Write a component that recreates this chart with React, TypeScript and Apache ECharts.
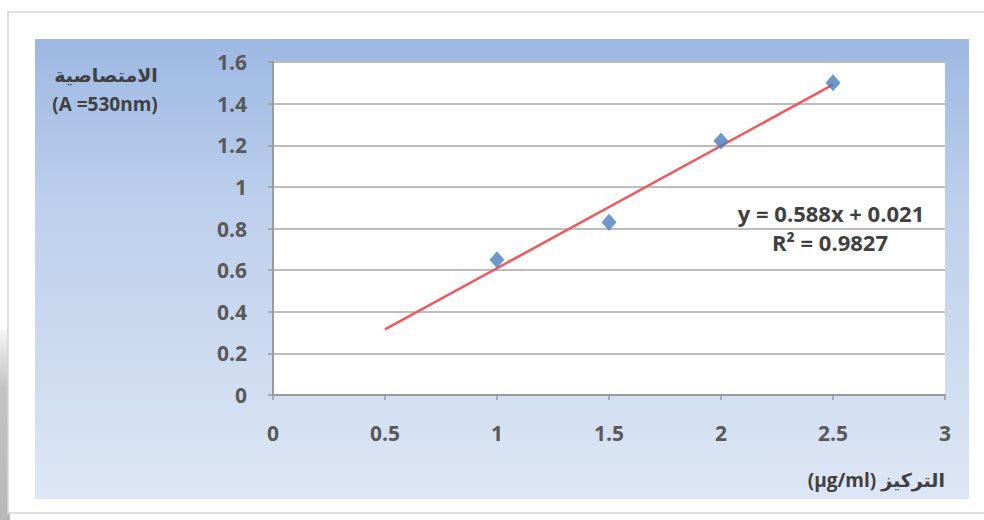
import React, { useEffect, useRef } from "react";
import * as echarts from "echarts";

const xTicks = [0, 0.5, 1, 1.5, 2, 2.5, 3];
const concentrations = [1, 1.5, 2, 2.5];
const absorbances = [0.65, 0.83, 1.22, 1.5];
const trendStart = [0.5, 0.315];
const trendEnd = [2.5, 1.491];
const equationText = "y = 0.588x + 0.021";
const r2Text = "R² = 0.9827";
const yTitleLines = ["الامتصاصية", "(A =530nm)"];
const xTitle = "(µg/ml) التركيز";

const FONT = "'Open Sans', 'DejaVu Sans', sans-serif";

export default function App() {
  const ref = useRef<HTMLDivElement>(null);
  useEffect(() => {
    if (!ref.current) return;
    const chart = echarts.init(ref.current, undefined, { renderer: "svg" });
    chart.setOption({
      animation: false,
      backgroundColor: "#ffffff",
      textStyle: { fontFamily: FONT },
      graphic: [
        {
          type: "rect",
          z: -10,
          silent: true,
          shape: { x: 0, y: 330, width: 10, height: 190 },
          style: {
            fill: new echarts.graphic.LinearGradient(0, 0, 0, 1, [
              { offset: 0, color: "#f4f4f4" },
              { offset: 0.3, color: "#c4c4c4" },
              { offset: 1, color: "#b8b8b8" },
            ]),
          },
        },
        {
          type: "rect",
          z: -9,
          silent: true,
          shape: { x: 8, y: 12, width: 990, height: 501 },
          style: { fill: "#ffffff", stroke: "#d4d4d4", lineWidth: 1.5 },
        },
        {
          type: "rect",
          z: -8,
          silent: true,
          shape: { x: 35, y: 39, width: 934, height: 460 },
          style: {
            fill: new echarts.graphic.LinearGradient(0, 0, 0, 1, [
              { offset: 0, color: "#9db8e2" },
              { offset: 0.35, color: "#bccfec" },
              { offset: 1, color: "#dde6f4" },
            ]),
          },
        },
        {
          type: "rect",
          z: -7,
          silent: true,
          shape: { x: 273, y: 62, width: 672, height: 333 },
          style: { fill: "#ffffff" },
        },
        {
          type: "text",
          x: 106,
          y: 75,
          style: {
            text: yTitleLines[0],
            font: `bold 19px ${FONT}`,
            fill: "#404040",
            align: "center",
            verticalAlign: "middle",
          },
        },
        {
          type: "text",
          x: 105,
          y: 104,
          style: {
            text: yTitleLines[1],
            font: `bold 19px ${FONT}`,
            fill: "#404040",
            align: "center",
            verticalAlign: "middle",
          },
        },
        {
          type: "text",
          x: 945,
          y: 480,
          style: {
            text: xTitle,
            font: `bold 19px ${FONT}`,
            fill: "#404040",
            align: "right",
            verticalAlign: "middle",
          },
        },
        {
          type: "text",
          x: 831,
          y: 213,
          style: {
            text: equationText,
            font: `bold 22px ${FONT}`,
            fill: "#404040",
            align: "center",
            verticalAlign: "middle",
          },
        },
        {
          type: "text",
          x: 830,
          y: 242,
          style: {
            text: r2Text,
            font: `bold 22px ${FONT}`,
            fill: "#404040",
            align: "center",
            verticalAlign: "middle",
          },
        },
      ],
      grid: { left: 273, right: 39, top: 62, bottom: 125 },
      xAxis: {
        type: "value",
        min: 0,
        max: 3,
        interval: 0.5,
        axisLine: { show: true, lineStyle: { color: "#9a9a9a", width: 2 } },
        axisTick: { show: true, length: 5, lineStyle: { color: "#9a9a9a", width: 1.5 } },
        splitLine: { show: false },
        axisLabel: {
          color: "#595959",
          fontSize: 21,
          fontWeight: "bold",
          margin: 27,
          fontFamily: FONT,
          formatter: (v: number) => (xTicks.includes(v) ? String(v) : ""),
        },
      },
      yAxis: {
        type: "value",
        min: 0,
        max: 1.6,
        interval: 0.2,
        axisLine: { show: true, lineStyle: { color: "#9a9a9a", width: 2 } },
        axisTick: { show: true, length: 5, lineStyle: { color: "#9a9a9a", width: 1.5 } },
        splitLine: { show: true, lineStyle: { color: "#bdbdbd", width: 2 } },
        axisLabel: {
          color: "#595959",
          fontSize: 21,
          fontWeight: "bold",
          margin: 26,
          fontFamily: FONT,
          formatter: (v: number) => String(Math.round(v * 10) / 10),
        },
      },
      series: [
        {
          type: "line",
          data: [trendStart, trendEnd],
          symbol: "none",
          lineStyle: { color: "#f0585c", width: 2.5 },
          z: 2,
        },
        {
          type: "scatter",
          data: concentrations.map((x, i) => [x, absorbances[i]]),
          symbol: "diamond",
          symbolSize: [15, 17],
          itemStyle: { color: "#4a7ebb" },
          z: 3,
        },
      ],
    });
    return () => chart.dispose();
  }, []);
  return (
    <div
      ref={ref}
      style={{ position: "fixed", left: 0, top: 0, width: 984, height: 520 }}
    />
  );
}
